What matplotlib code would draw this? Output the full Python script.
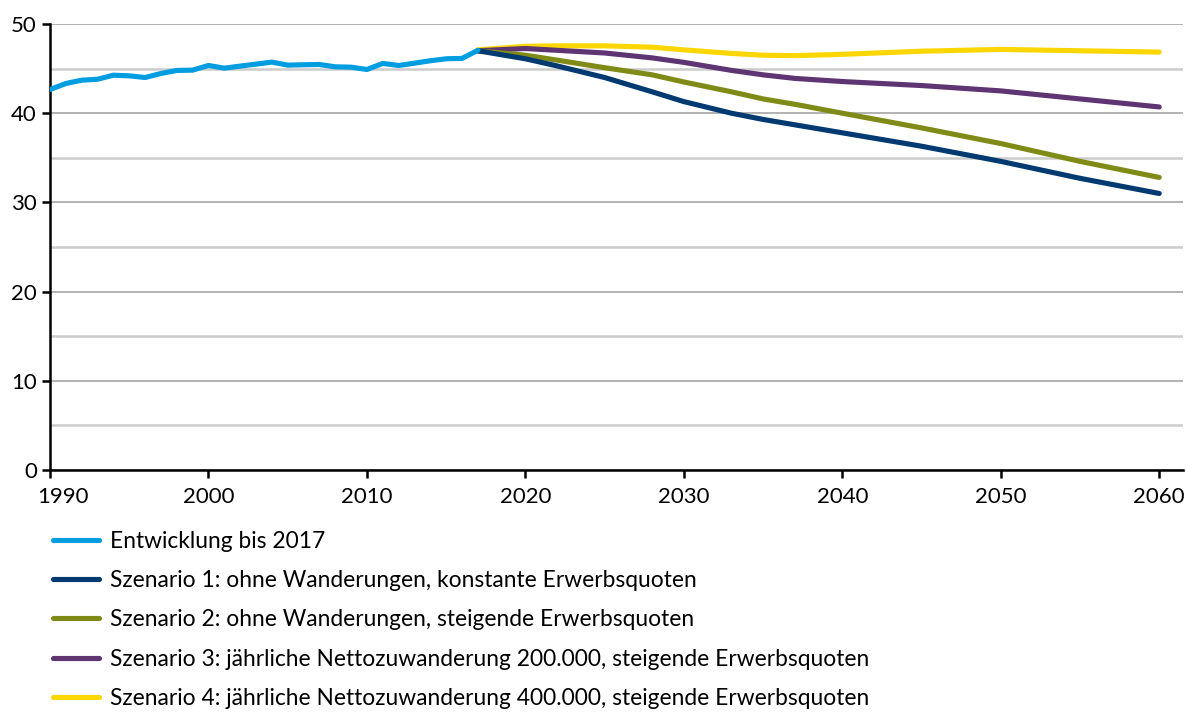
import matplotlib
matplotlib.use("Agg")
import matplotlib.pyplot as plt
import matplotlib.transforms as mtransforms
from matplotlib.ticker import MultipleLocator

plt.rcParams['font.family'] = ['Lato', 'DejaVu Sans']

# Entwicklung bis 2017
jahre_hist = list(range(1990, 2018))
werte_hist = [42.65, 43.33, 43.70, 43.81, 44.26, 44.19, 44.00, 44.45, 44.79, 44.83,
              45.35, 45.05, 45.28, 45.50, 45.73, 45.39, 45.43, 45.46, 45.20, 45.16,
              44.90, 45.58, 45.35, 45.61, 45.88, 46.10, 46.14, 47.05]

# Szenarien ab 2017
jahre_szen = [2017, 2020, 2022, 2025, 2028, 2030, 2033, 2035, 2037, 2040, 2045, 2050, 2055, 2060]
szenario1 = [47.0, 46.1, 45.3, 44.0, 42.4, 41.3, 40.0, 39.3, 38.7, 37.8, 36.3, 34.6, 32.7, 31.0]
szenario2 = [47.0, 46.5, 45.95, 45.1, 44.3, 43.5, 42.4, 41.6, 41.0, 40.0, 38.35, 36.6, 34.6, 32.8]
szenario3 = [47.0, 47.25, 47.05, 46.75, 46.2, 45.7, 44.8, 44.3, 43.9, 43.55, 43.1, 42.5, 41.6, 40.7]
szenario4 = [47.1, 47.5, 47.55, 47.55, 47.4, 47.1, 46.7, 46.5, 46.45, 46.6, 46.95, 47.15, 47.0, 46.85]

labels = ['Entwicklung bis 2017',
          'Szenario 1: ohne Wanderungen, konstante Erwerbsquoten',
          'Szenario 2: ohne Wanderungen, steigende Erwerbsquoten',
          'Szenario 3: jährliche Nettozuwanderung 200.000, steigende Erwerbsquoten',
          'Szenario 4: jährliche Nettozuwanderung 400.000, steigende Erwerbsquoten']
farben = ['#009de0', '#003a70', '#7f8a17', '#5f3473', '#fcd600']

fig = plt.figure(figsize=(11.86, 7.12), dpi=100)
ax = fig.add_axes([50/1186, 1 - 470/712, 1133/1186, 446/712])

lw = 3.7
ax.plot(jahre_hist, werte_hist, color=farben[0], lw=lw, solid_capstyle='round', label=labels[0], zorder=5)
for werte, farbe, lab, z in zip([szenario1, szenario2, szenario3, szenario4], farben[1:], labels[1:], [4, 3, 2, 1]):
    ax.plot(jahre_szen, werte, color=farbe, lw=lw, solid_capstyle='round', label=lab, zorder=z)

ax.set_xlim(1990, 2061.5)
ax.set_ylim(0, 50)
ax.set_xticks(range(1990, 2061, 10))
ax.yaxis.set_major_locator(MultipleLocator(10))
ax.yaxis.set_minor_locator(MultipleLocator(5))

# Gitternetz
ax.grid(axis='y', which='major', color='#a6a6a6', lw=1.2)
ax.grid(axis='y', which='minor', color='#cccccc', lw=1.8)
ax.set_axisbelow(True)

for s in ['top', 'right']:
    ax.spines[s].set_visible(False)
for s in ['left', 'bottom']:
    ax.spines[s].set_linewidth(1.8)
    ax.spines[s].set_color('black')

ax.tick_params(axis='both', which='major', labelsize=16, width=1.8, length=5.5, color='black')
ax.tick_params(axis='x', pad=7)
ax.tick_params(axis='y', pad=4)
ax.tick_params(axis='y', which='minor', length=0)

# erstes Jahr etwas nach rechts wie im Original
erstes = ax.get_xticklabels()[0]
erstes.set_transform(erstes.get_transform() + mtransforms.ScaledTranslation(13/100, 0, fig.dpi_scale_trans))

fig.legend(loc='upper left', bbox_to_anchor=(53/1186, 1 - 531/712), frameon=False,
           fontsize=16.4, handlelength=2.0, handletextpad=0.5, labelspacing=0.8,
           borderpad=0, borderaxespad=0)

plt.savefig('out.png', dpi=100)
